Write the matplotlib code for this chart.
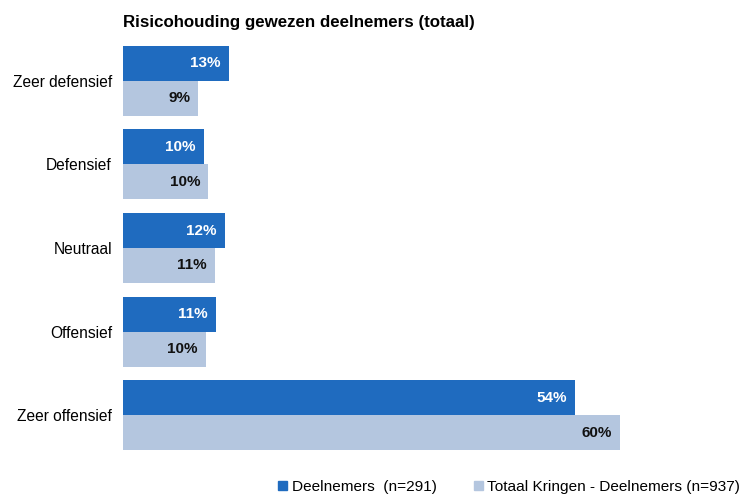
import matplotlib
matplotlib.use("Agg")
import matplotlib.pyplot as plt
from matplotlib.patches import Rectangle

plt.rcParams['font.family'] = ['Liberation Sans Narrow', 'Liberation Sans', 'DejaVu Sans']

categories = ["Zeer defensief", "Defensief", "Neutraal", "Offensief", "Zeer offensief"]
deelnemers = [12.8, 9.8, 12.3, 11.2, 54.6]
totaal = [9.1, 10.3, 11.1, 10.0, 60.0]
labels_deel = ["13%", "10%", "12%", "11%", "54%"]
labels_tot = ["9%", "10%", "11%", "10%", "60%"]
legend_names = ["Deelnemers  (n=291)", "Totaal Kringen - Deelnemers (n=937)"]

dark = "#1f6bbf"
light = "#b4c6df"

fig = plt.figure(figsize=(7.48, 4.96), dpi=100)
ax = fig.add_axes([123/748, 1 - 457/496, (740-123)/748, 418/496])

h = 0.418
ypos = list(range(len(categories)))
ax.barh([y - h/2 for y in ypos], deelnemers, height=h, color=dark)
ax.barh([y + h/2 for y in ypos], totaal, height=h, color=light)

for y, v, t in zip(ypos, deelnemers, labels_deel):
    ax.text(v - 1.0, y - h/2, t, ha="right", va="center", color="white",
            fontsize=11, fontweight="bold")
for y, v, t in zip(ypos, totaal, labels_tot):
    ax.text(v - 1.0, y + h/2, t, ha="right", va="center", color="#111111",
            fontsize=11, fontweight="bold")

ax.set_xlim(0, 74.5)
ax.set_ylim(4.5, -0.5)
ax.set_yticks(ypos)
ax.set_yticklabels(categories, fontsize=11.2)
ax.tick_params(axis="y", length=0, pad=8)
ax.set_xticks([])
for s in ax.spines.values():
    s.set_visible(False)

fig.text(123/748, 1 - 22/496, "Risicohouding gewezen deelnemers (totaal)",
         fontsize=12.2, fontweight="bold", va="center", ha="left")

# legend along the bottom
handles = [Rectangle((0, 0), 1, 1, color=dark), Rectangle((0, 0), 1, 1, color=light)]
fig.legend(handles, legend_names, loc="center", bbox_to_anchor=(509/748, 1 - 487/496),
           ncol=2, frameon=False, fontsize=11.1, handlelength=0.6, handleheight=0.6,
           handletextpad=0.3, columnspacing=2.4)

fig.savefig("out.png", dpi=100)
